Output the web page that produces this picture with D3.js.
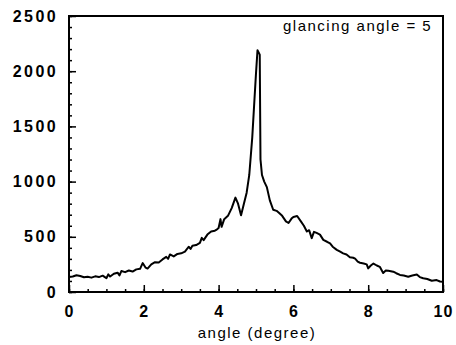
<!DOCTYPE html>
<html>
<head>
<meta charset="utf-8">
<script src="https://cdn.jsdelivr.net/npm/d3@7"></script>
<style>
  html, body { margin: 0; padding: 0; background: #fff; }
  svg { display: block; }
</style>
</head>
<body>
<svg id="chart" width="456" height="345"></svg>
<script>
// Scattered intensity versus detector angle
const angle = [
  0.0, 0.1, 0.2, 0.3, 0.4, 0.5, 0.6, 0.7, 0.8, 0.9,
  1.0, 1.05, 1.1, 1.2, 1.3, 1.35, 1.4, 1.5, 1.6, 1.7,
  1.8, 1.9, 1.97, 2.05, 2.1, 2.2, 2.3, 2.4, 2.5, 2.6,
  2.65, 2.7, 2.8, 2.9, 3.0, 3.1, 3.2, 3.25, 3.3, 3.4,
  3.5, 3.55, 3.6, 3.7, 3.8, 3.9, 3.95, 4.0, 4.05, 4.08,
  4.15, 4.25, 4.35, 4.45, 4.52, 4.6, 4.67, 4.75, 4.82, 4.9,
  4.96, 5.0, 5.04, 5.1, 5.12, 5.16, 5.22, 5.29, 5.37, 5.46,
  5.55, 5.62, 5.7, 5.8, 5.87, 5.95, 6.0, 6.1, 6.2, 6.28,
  6.36, 6.42, 6.49, 6.55, 6.62, 6.71, 6.8, 6.9, 6.98, 7.05,
  7.16, 7.25, 7.33, 7.42, 7.51, 7.6, 7.65, 7.72, 7.78, 7.88,
  7.96, 8.0, 8.07, 8.14, 8.23, 8.31, 8.4, 8.47, 8.54, 8.67,
  8.75, 8.85, 8.95, 9.07, 9.18, 9.3, 9.38, 9.47, 9.58, 9.7,
  9.83, 9.92, 10.0
];
const intensity = [
  135, 140, 152, 145, 133, 138, 130, 142, 135, 148,
  125, 160, 140, 165, 175, 150, 190, 180, 195, 185,
  205, 210, 262, 220, 212, 250, 270, 268, 295, 318,
  300, 340, 322, 345, 350, 365, 410, 390, 418, 425,
  445, 490, 470, 520, 548, 555, 565, 580, 660, 590,
  660, 690, 760, 855, 800, 695, 790, 900, 1060, 1400,
  1750, 1980, 2190, 2150, 1200, 1060, 1000, 950, 830, 745,
  735, 715, 690, 640, 625, 665, 680, 688, 640, 600,
  548, 560, 488, 545, 535, 520, 472, 455, 440, 410,
  382, 365, 350, 340, 315, 310, 302, 275, 265, 258,
  250, 214, 240, 258, 240, 228, 172, 195, 192, 184,
  170, 155, 150, 138, 150, 158, 135, 124, 118, 102,
  108, 95, 92
];

const xMajor = [0, 2, 4, 6, 8, 10];
const yMajor = [0, 500, 1000, 1500, 2000, 2500];
const xTitle = "angle (degree)";
const legendText = "glancing angle = 5";

const svg = d3.select("#chart");
const plotLeft = 69, plotRight = 443, plotTop = 16, plotBottom = 292;

const x = d3.scaleLinear().domain([0, 10]).range([plotLeft, plotRight]);
const y = d3.scaleLinear().domain([0, 2500]).range([plotBottom, plotTop]);

const tickFont = "'Liberation Sans', Arial, sans-serif";

// minor ticks (no labels)
svg.append("g")
  .attr("transform", `translate(0,${plotBottom})`)
  .call(d3.axisBottom(x).tickValues(d3.range(0, 10.01, 0.5)).tickSize(-3).tickSizeOuter(0).tickFormat(""))
  .call(g => g.select(".domain").remove())
  .selectAll("line").attr("stroke", "#000").attr("stroke-width", 1.5);

svg.append("g")
  .attr("transform", `translate(${plotLeft},0)`)
  .call(d3.axisLeft(y).tickValues(d3.range(0, 2501, 100)).tickSize(-3).tickSizeOuter(0).tickFormat(""))
  .call(g => g.select(".domain").remove())
  .selectAll("line").attr("stroke", "#000").attr("stroke-width", 1.5);

// major ticks with labels
const xAxis = svg.append("g")
  .attr("transform", `translate(0,${plotBottom})`)
  .call(d3.axisBottom(x).tickValues(xMajor).tickSize(-7).tickSizeOuter(0).tickPadding(14).tickFormat(d3.format("d")))
  .call(g => g.select(".domain").remove());
xAxis.selectAll("line").attr("stroke", "#000").attr("stroke-width", 1.5);
xAxis.selectAll("text")
  .attr("fill", "#000")
  .style("font-family", tickFont)
  .style("font-size", "16px")
  .style("font-weight", "bold")
  .style("letter-spacing", "1px");

const yAxis = svg.append("g")
  .attr("transform", `translate(${plotLeft},0)`)
  .call(d3.axisLeft(y).tickValues(yMajor).tickSize(-7).tickSizeOuter(0).tickPadding(11).tickFormat(d3.format("d")))
  .call(g => g.select(".domain").remove());
yAxis.selectAll("line").attr("stroke", "#000").attr("stroke-width", 1.5);
yAxis.selectAll("text")
  .attr("fill", "#000")
  .style("font-family", tickFont)
  .style("font-size", "16px")
  .style("font-weight", "bold")
  .style("letter-spacing", "2.4px");

// frame
svg.append("rect")
  .attr("x", plotLeft).attr("y", plotTop)
  .attr("width", plotRight - plotLeft).attr("height", plotBottom - plotTop)
  .attr("fill", "none").attr("stroke", "#000").attr("stroke-width", 2);

// data trace
const points = angle.map((a, i) => [a, intensity[i]]);
svg.append("path")
  .datum(points)
  .attr("fill", "none")
  .attr("stroke", "#000")
  .attr("stroke-width", 2)
  .attr("stroke-linejoin", "round")
  .attr("d", d3.line().x(d => x(d[0])).y(d => y(d[1])));

// axis title
svg.append("text")
  .attr("x", (plotLeft + plotRight) / 2 + 1)
  .attr("y", 338)
  .attr("text-anchor", "middle")
  .style("font-family", tickFont)
  .style("font-size", "15px")
  .style("letter-spacing", "1.5px")
  .text(xTitle);

// annotation
svg.append("text")
  .attr("x", 283)
  .attr("y", 31)
  .style("font-family", tickFont)
  .style("font-size", "15px")
  .style("letter-spacing", "1.5px")
  .text(legendText);
</script>
</body>
</html>
